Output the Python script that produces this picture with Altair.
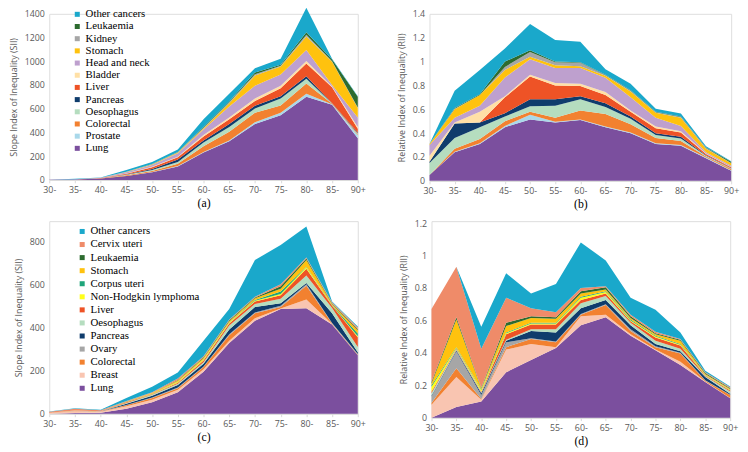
import altair as alt
import pandas as pd

ages = ["30-", "35-", "40-", "45-", "50-", "55-", "60-", "65-", "70-", "75-", "80-", "85-", "90+"]

# ---------- Panel (a): SII, men ----------
a_lung = [1, 3, 11, 32, 64, 113, 231, 325, 472, 544, 700, 633, 351]
a_prostate = [0, 0, 0, 1, 3, 5, 5, 8, 13, 22, 27, 5, 27]
a_colorectal = [0, 1, 2, 5, 8, 19, 48, 72, 81, 61, 85, 3, 8]
a_oesophagus = [0, 0, 1, 5, 8, 13, 32, 40, 35, 59, 41, 3, 5]
a_pancreas = [0, 0, 0, 3, 8, 22, 17, 27, 24, 19, 21, 2, 6]
a_liver = [0, 0, 1, 5, 16, 18, 32, 40, 40, 67, 107, 134, 35]
a_bladder = [0, 0, 0, 2, 3, 6, 13, 14, 21, 22, 22, 8, 13]
a_headneck = [0, 1, 2, 11, 16, 29, 46, 93, 108, 94, 91, 12, 81]
a_stomach = [0, 1, 1, 3, 3, 6, 10, 27, 86, 67, 115, 195, 80]
a_kidney = [0, 0, 0, 1, 2, 3, 6, 8, 10, 8, 14, 5, 5]
a_leukaemia = [0, 0, 0, 1, 2, 2, 5, 6, 16, 8, 21, 14, 89]
a_other = [1, 4, 3, 14, 17, 21, 67, 67, 35, 51, 207, 8, 5]

# ---------- Panel (b): RII, men ----------
b_lung = [.05, .24, .31, .45, .515, .49, .51, .45, .40, .31, .295, .19, .085]
b_prostate = [0, .005, .005, .01, .04, .005, .005, .005, .005, .005, .005, .005, .005]
b_colorectal = [0, .025, .035, .04, .025, .035, .075, .105, .07, .045, .035, .01, .01]
b_oesophagus = [.10, .09, .10, .04, .045, .10, .095, .06, .045, .025, .02, .005, .003]
b_pancreas = [.01, .12, .04, .027, .06, .055, .025, .03, .02, .015, .015, .005, .002]
b_liver = [0, 0, 0, .133, .19, .115, .085, .07, .04, .04, .035, .01, .01]
b_bladder = [.05, .01, .09, .01, .015, .02, .02, .025, .01, .015, .01, .005, .002]
b_headneck = [.09, .04, .05, .157, .13, .125, .13, .12, .11, .075, .045, .01, .01]
b_stomach = [.01, .07, .09, .063, .02, .025, .015, .015, .05, .04, .07, .03, .02]
b_kidney = [0, .005, 0, .025, .04, .025, .03, .005, .005, .005, .005, .005, .003]
b_leukaemia = [0, .005, .005, .045, .015, .005, .005, .005, .005, .005, .005, .005, .01]
b_other = [0, .145, .205, .11, .22, .18, .17, .045, .055, .025, .025, .01, .005]

# ---------- Panel (c): SII, women ----------
c_lung = [0, 3, 5, 23, 53, 100, 195, 329, 433, 487, 491, 415, 272]
c_breast = [3, 8, 4, 12, 12, 11, 12, 10, 11, 3, 41, 2, 0]
c_colorectal = [1, 2, 1, 5, 8, 8, 10, 26, 24, 6, 64, 3, 2]
c_ovary = [0, 1, 1, 1, 2, 3, 3, 5, 3, 6, 6, 2, 4]
c_pancreas = [0, 0, 1, 6, 9, 12, 13, 22, 25, 12, 6, 45, 8]
c_oesophagus = [0, 0, 0, 3, 4, 6, 7, 19, 14, 21, 35, 25, 25]
c_liver = [0, 0, 0, 3, 3, 4, 8, 9, 12, 16, 31, 10, 45]
c_nhl = [0, 0, 0, 1, 1, 4, 4, 3, 4, 6, 7, 2, 5]
c_corpus = [0, 0, 0, 0, 1, 1, 1, 2, 3, 12, 3, 2, 12]
c_stomach = [0, 1, 0, 2, 3, 6, 6, 5, 8, 13, 31, 5, 15]
c_leukaemia = [0, 0, 0, 1, 1, 2, 4, 5, 4, 11, 7, 3, 5]
c_cervix = [5, 8, 4, 2, 3, 7, 5, 3, 3, 9, 5, 5, 8]
c_other = [1, 2, 3, 14, 26, 28, 71, 49, 171, 183, 144, 3, 5]

# ---------- Panel (d): RII, women ----------
d_lung = [0, .065, .10, .28, .355, .43, .57, .62, .505, .415, .325, .22, .12]
d_breast = [.08, .185, .01, .14, .10, .005, .055, .015, .01, .005, .02, .003, .002]
d_colorectal = [.01, .055, .005, .015, .03, .03, .01, .06, .02, .015, .05, .005, .018]
d_ovary = [.04, .105, .025, .03, .005, .005, .005, .005, .01, .005, .005, .002, .002]
d_pancreas = [.005, .005, .01, .01, .045, .055, .035, .025, .025, .015, .01, .02, .005]
d_oesophagus = [.015, .005, .005, .005, .01, .02, .03, .025, .015, .02, .015, .005, .015]
d_liver = [.01, .005, .005, .035, .03, .03, .02, .015, .01, .02, .02, .005, .005]
d_nhl = [.03, .005, .01, .005, .005, .005, .015, .01, .005, .005, .005, .003, .003]
d_corpus = [.01, .005, .005, .005, .005, .005, .005, .005, .005, .005, .005, .002, .002]
d_stomach = [.01, .17, .005, .04, .03, .025, .02, .01, .01, .01, .02, .005, .005]
d_leukaemia = [.01, .015, .005, .02, .01, .01, .015, .015, .01, .005, .005, .005, .005]
d_cervix = [.45, .31, .24, .155, .05, .03, .02, .005, .01, .01, .005, .005, .005]
d_other = [0, 0, .135, .15, .09, .175, .28, .16, .105, .135, .04, .01, .005]

men_names = ["Lung", "Prostate", "Colorectal", "Oesophagus", "Pancreas", "Liver",
             "Bladder", "Head and neck", "Stomach", "Kidney", "Leukaemia", "Other cancers"]
men_colors = ["#7B4F9E", "#A9D8EA", "#F28130", "#B5DDBF", "#0F3C6C", "#EE5326",
              "#FFE0A6", "#BEA0CE", "#FFC20E", "#A6A6A6", "#2D6B2F", "#1AA8CB"]
women_names = ["Lung", "Breast", "Colorectal", "Ovary", "Pancreas", "Oesophagus", "Liver",
               "Non-Hodgkin lymphoma", "Corpus uteri", "Stomach", "Leukaemia",
               "Cervix uteri", "Other cancers"]
women_colors = ["#7B4F9E", "#F9C5B1", "#F28130", "#A6A6A6", "#0F3C6C", "#B5DDBF", "#EE5326",
                "#FFFF1A", "#1FA57A", "#FFC20E", "#2D6B2F", "#EF8B69", "#1AA8CB"]

a_series = [a_lung, a_prostate, a_colorectal, a_oesophagus, a_pancreas, a_liver,
            a_bladder, a_headneck, a_stomach, a_kidney, a_leukaemia, a_other]
b_series = [b_lung, b_prostate, b_colorectal, b_oesophagus, b_pancreas, b_liver,
            b_bladder, b_headneck, b_stomach, b_kidney, b_leukaemia, b_other]
c_series = [c_lung, c_breast, c_colorectal, c_ovary, c_pancreas, c_oesophagus, c_liver,
            c_nhl, c_corpus, c_stomach, c_leukaemia, c_cervix, c_other]
d_series = [d_lung, d_breast, d_colorectal, d_ovary, d_pancreas, d_oesophagus, d_liver,
            d_nhl, d_corpus, d_stomach, d_leukaemia, d_cervix, d_other]


def long_df(names, series):
    rows = []
    for i, (n, s) in enumerate(zip(names, series)):
        for age, v in zip(ages, s):
            rows.append({"age": age, "cancer": n, "value": v, "idx": i})
    return pd.DataFrame(rows)


SANS = "Open Sans"
SERIF = "Liberation Serif"
GREY = "#595959"


def panel(df, names, colors, ymax, ticks, fmt, ytitle, label, width, height, legend=None):
    x = alt.X("age:O", sort=ages, scale=alt.Scale(type="point", padding=0),
              axis=alt.Axis(title=label, labelAngle=0, labelFont=SANS, labelFontSize=9,
                            labelColor=GREY, domainColor="#D9D9D9", tickColor="#D9D9D9",
                            tickSize=3, labelPadding=3, titleFont=SERIF, titleFontSize=12,
                            titleFontWeight="normal", titleColor="black", titleY=23,
                            titleBaseline="middle"))
    y = alt.Y("value:Q", stack="zero",
              scale=alt.Scale(domain=[0, ymax], nice=False, zero=True),
              axis=alt.Axis(title=ytitle, values=ticks, format=fmt, grid=False,
                            domain=False, ticks=False, labelFont=SANS, labelFontSize=9,
                            labelColor=GREY, labelPadding=5, titleFont=SANS,
                            titleFontSize=9, titleFontWeight="normal", titleColor=GREY,
                            titlePadding=6))
    color = alt.Color("cancer:N",
                      scale=alt.Scale(domain=names[::-1], range=colors[::-1]),
                      legend=legend)
    return alt.Chart(df).mark_area(opacity=1, clip=False).encode(
        x=x, y=y, color=color, order=alt.Order("idx:Q", sort="ascending")
    ).properties(width=width, height=height)


leg_a = alt.Legend(orient="none", legendX=23, legendY=-5, title=None, labelFont=SERIF,
                   labelFontSize=11, labelColor="black", symbolType="square",
                   symbolSize=26, symbolStrokeWidth=0, rowPadding=0.4, padding=0,
                   labelOffset=3)
leg_c = alt.Legend(orient="none", legendX=28, legendY=5, title=None, labelFont=SERIF,
                   labelFontSize=11, labelColor="black", symbolType="square",
                   symbolSize=26, symbolStrokeWidth=0, rowPadding=1.3, padding=0,
                   labelOffset=3)

pa = panel(long_df(men_names, a_series), men_names, men_colors, 1400,
           [0, 200, 400, 600, 800, 1000, 1200, 1400], "d",
           "Slope Index of Inequality (SII)", "(a)", 314, 169, leg_a)
pb = panel(long_df(men_names, b_series), men_names, men_colors, 1.4,
           [0, 0.2, 0.4, 0.6, 0.8, 1, 1.2, 1.4], ".1~f",
           "Relative Index of Inequality (RII)", "(b)", 307, 170, None)
pc = panel(long_df(women_names, c_series), women_names, women_colors, 896,
           [0, 200, 400, 600, 800], "d",
           "Slope Index of Inequality (SII)", "(c)", 314, 196, leg_c)
pd_ = panel(long_df(women_names, d_series), women_names, women_colors, 1.212,
            [0, 0.2, 0.4, 0.6, 0.8, 1, 1.2], ".1~f",
            "Relative Index of Inequality (RII)", "(d)", 304, 200, None)

row1 = alt.hconcat(pa, pb, spacing=30).resolve_scale(color="independent", y="independent")
row2 = alt.hconcat(pc, pd_, spacing=32).resolve_scale(color="independent", y="independent")

chart = alt.concat(row1, row2, columns=1, align="none", spacing=8).resolve_scale(
    color="independent", y="independent"
).properties(
    padding={"top": -5, "left": 0, "right": 0, "bottom": 0}
).configure_view(stroke=None).configure_legend(
    labelFont=SERIF
).configure(background="white", font=SERIF)

chart.save("out.html", embed_options={"renderer": "svg", "actions": False})
